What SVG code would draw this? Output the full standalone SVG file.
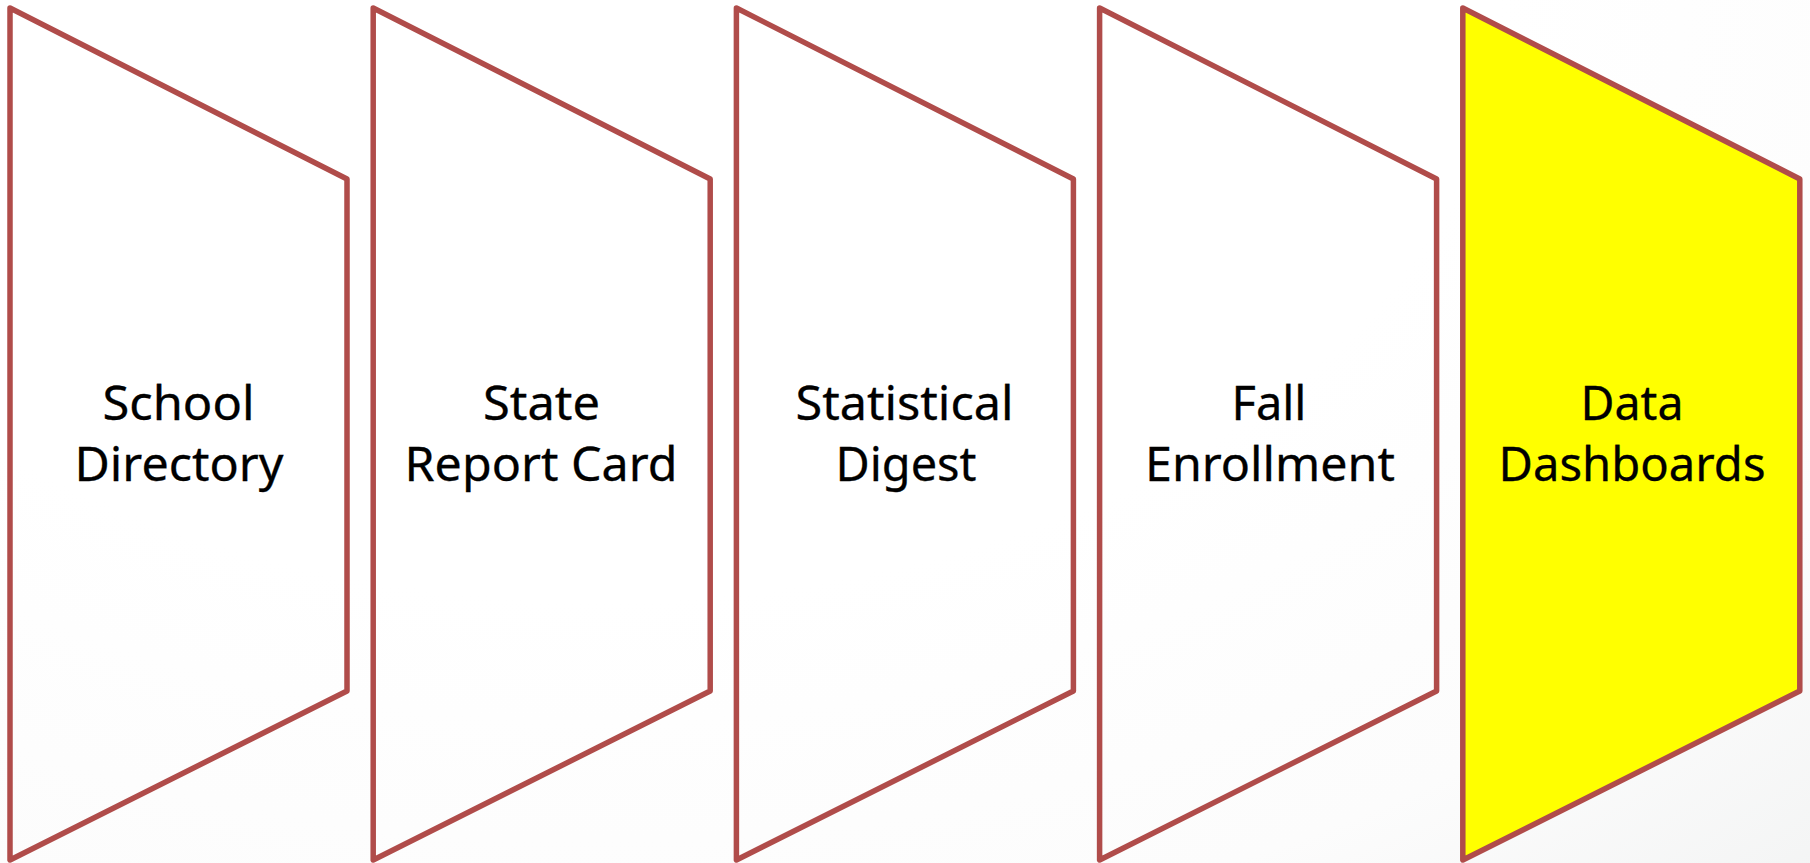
<svg xmlns="http://www.w3.org/2000/svg" width="1810" height="863" viewBox="0 0 1810 863">
<style>
.s{stroke:#b04c4a;stroke-width:5.5;stroke-linejoin:round;fill:none}
.y{fill:#ffff00}
text{font-family:"Noto Sans","Liberation Sans",sans-serif;font-size:47px;fill:#000;stroke:#000;stroke-width:.3;text-anchor:middle}
</style>
<defs>
<radialGradient id="bg" gradientUnits="userSpaceOnUse" cx="0" cy="0" r="1" gradientTransform="translate(600 0) scale(1800 1200)"><stop offset="0.5" stop-color="#ffffff"/><stop offset="0.8" stop-color="#fcfcfc"/><stop offset="1" stop-color="#f3f4f4"/></radialGradient>
<path id="p" d="M10 8L347 179V691L10 860Z"/>
</defs>
<rect width="1810" height="863" fill="url(#bg)"/>
<g id="node-1"><use href="#p" class="s"/><text x="178.500" y="420" textLength="152" lengthAdjust="spacingAndGlyphs">School</text><text x="179" y="481" textLength="209" lengthAdjust="spacingAndGlyphs">Directory</text></g>
<g id="node-2"><use href="#p" x="363.2" class="s"/><text x="541.500" y="420" textLength="117" lengthAdjust="spacingAndGlyphs">State</text><text x="541" y="481" textLength="273" lengthAdjust="spacingAndGlyphs">Report Card</text></g>
<g id="node-3"><use href="#p" x="726.4" class="s"/><text x="904.500" y="420" textLength="218" lengthAdjust="spacingAndGlyphs">Statistical</text><text x="906" y="481" textLength="141" lengthAdjust="spacingAndGlyphs">Digest</text></g>
<g id="node-4"><use href="#p" x="1089.6" class="s"/><text x="1269" y="420" textLength="75" lengthAdjust="spacingAndGlyphs">Fall</text><text x="1270" y="481" textLength="250" lengthAdjust="spacingAndGlyphs">Enrollment</text></g>
<g id="node-5"><use href="#p" x="1452.8" class="s y"/><text x="1632" y="420" textLength="103" lengthAdjust="spacingAndGlyphs">Data</text><text x="1632" y="481" textLength="267" lengthAdjust="spacingAndGlyphs">Dashboards</text></g>
<g id="connectors"></g>
</svg>
